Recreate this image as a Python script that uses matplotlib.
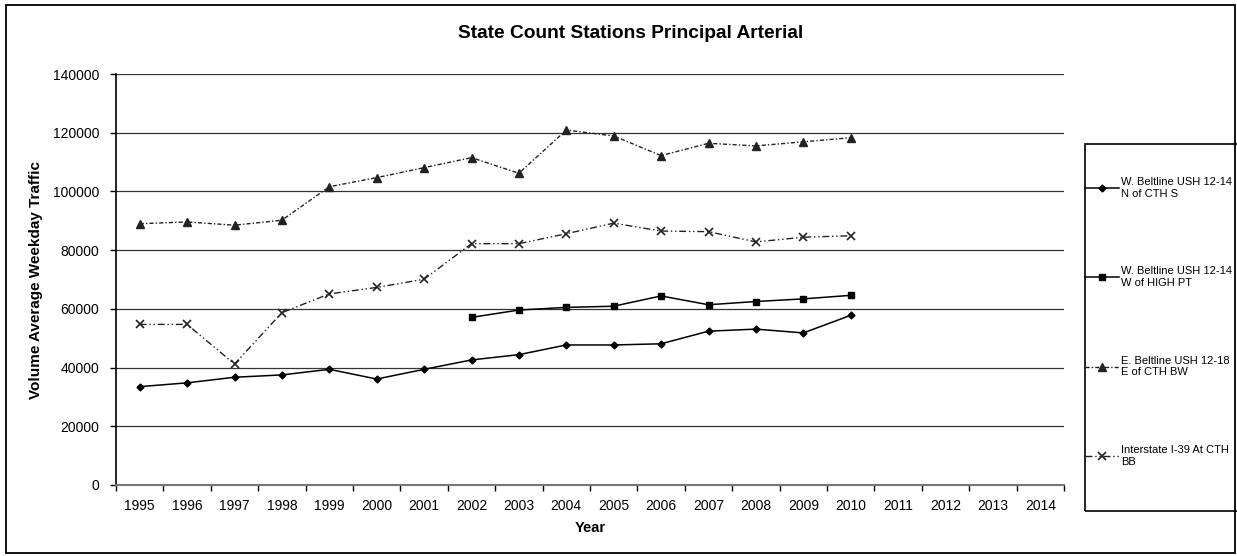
import matplotlib
matplotlib.use("Agg")
import matplotlib.pyplot as plt
from matplotlib.patches import Rectangle
import numpy as np

plt.rcParams['font.family'] = ['Liberation Sans', 'DejaVu Sans']

years = [str(y) for y in range(1995, 2015)]

# values (None = no count that year)
n_of_cth_s = [33500, 34800, 36700, 37500, 39400, 36100, 39400, 42600, 44400,
              47700, 47700, 48100, 52400, 53100, 51800, 57800]
w_of_high_pt = [None] * 7 + [57100, 59600, 60500, 60900, 64400, 61400, 62500,
                             63400, 64600]
e_of_cth_bw = [89000, 89600, 88500, 90200, 101600, 104700, 108100, 111500,
               106200, 120900, 118900, 112200, 116400, 115500, 116900, 118300]
i39_at_cth_bb = [54700, 54700, 41200, 58700, 65100, 67300, 70100, 82200, 82200,
                 85600, 89200, 86500, 86300, 82800, 84400, 84900]

labels = ["W. Beltline USH 12-14\nN of CTH S",
          "W. Beltline USH 12-14\nW of HIGH PT",
          "E. Beltline USH 12-18\nE of CTH BW",
          "Interstate I-39 At CTH\nBB"]

W, H = 1237, 556
fig = plt.figure(figsize=(W / 100, H / 100), dpi=100)
ax = fig.add_axes([116 / W, 1 - 485 / H, (1064 - 116) / W, (485 - 74) / H])


def to_arr(vals):
    return np.array([np.nan if v is None else v for v in vals], dtype=float)


x = np.arange(len(years))

ax.plot(x[:16], to_arr(n_of_cth_s), color="black", lw=1.1, marker="D",
        markersize=3.5, label=labels[0])
ax.plot(x[:16], to_arr(w_of_high_pt), color="black", lw=1.1, marker="s",
        markersize=4, label=labels[1])
ax.plot(x[:16], to_arr(e_of_cth_bw), color="#222222", lw=1.0,
        dashes=(3, 1.5, 1, 1.5), marker="^", markersize=5.5, label=labels[2])
ax.plot(x[:16], to_arr(i39_at_cth_bb), color="#222222", lw=1.0,
        dashes=(5, 2, 1, 2, 1, 2), marker="x", markersize=6, mew=1.2,
        label=labels[3])

ax.set_xlim(-0.5, len(years) - 0.5)
ax.set_ylim(0, 140000)
ax.set_yticks(np.arange(0, 140001, 20000))
ax.set_xticks(x)
ax.set_xticklabels(years, fontsize=10)
ax.set_xticks(np.arange(-0.5, len(years), 1.0), minor=True)
ax.tick_params(axis="x", which="major", length=0, pad=10)
ax.tick_params(axis="x", which="minor", length=4, direction="out", width=1)
ax.tick_params(axis="y", length=4, direction="out", width=1, labelsize=10, pad=8)

ax.grid(True, axis="y", color="#333333", linewidth=0.9)
ax.set_axisbelow(True)
for s in ["top", "right"]:
    ax.spines[s].set_visible(False)
ax.spines["left"].set_color("black")
ax.spines["left"].set_linewidth(1.2)
ax.spines["bottom"].set_color("#777777")
ax.spines["bottom"].set_linewidth(1.5)

ax.set_xlabel("Year", fontsize=10.5, fontweight="bold")
ax.xaxis.set_label_coords(0.5, -(521 - 485) / (485 - 74))
ax.set_ylabel("Volume Average Weekday Traffic", fontsize=11, fontweight="bold")
ax.yaxis.set_label_coords(-(116 - 43) / (1064 - 116), 0.5)

fig.text(631 / W, 1 - 33 / H, "State Count Stations Principal Arterial",
         ha="center", va="center", fontsize=13.8, fontweight="bold")

# legend box drawn on its own, entries placed inside it
fig.patches.append(Rectangle((1085 / W, 1 - 511 / H), (1245 - 1085) / W,
                             (511 - 144) / H, transform=fig.transFigure,
                             fill=False, edgecolor="black", linewidth=1.2))
fig.legend(loc="upper left", bbox_to_anchor=(1085 / W, 1 - 177 / H),
           fontsize=8, frameon=False, labelspacing=6.1, handlelength=3.06,
           handletextpad=0.2, borderpad=0, borderaxespad=0)

fig.patches.append(Rectangle((6 / W, 1 - 553 / H), (1235 - 6) / W, (553 - 5) / H,
                             transform=fig.transFigure, fill=False,
                             edgecolor="black", linewidth=1.3))

fig.savefig("out.png", dpi=100)
